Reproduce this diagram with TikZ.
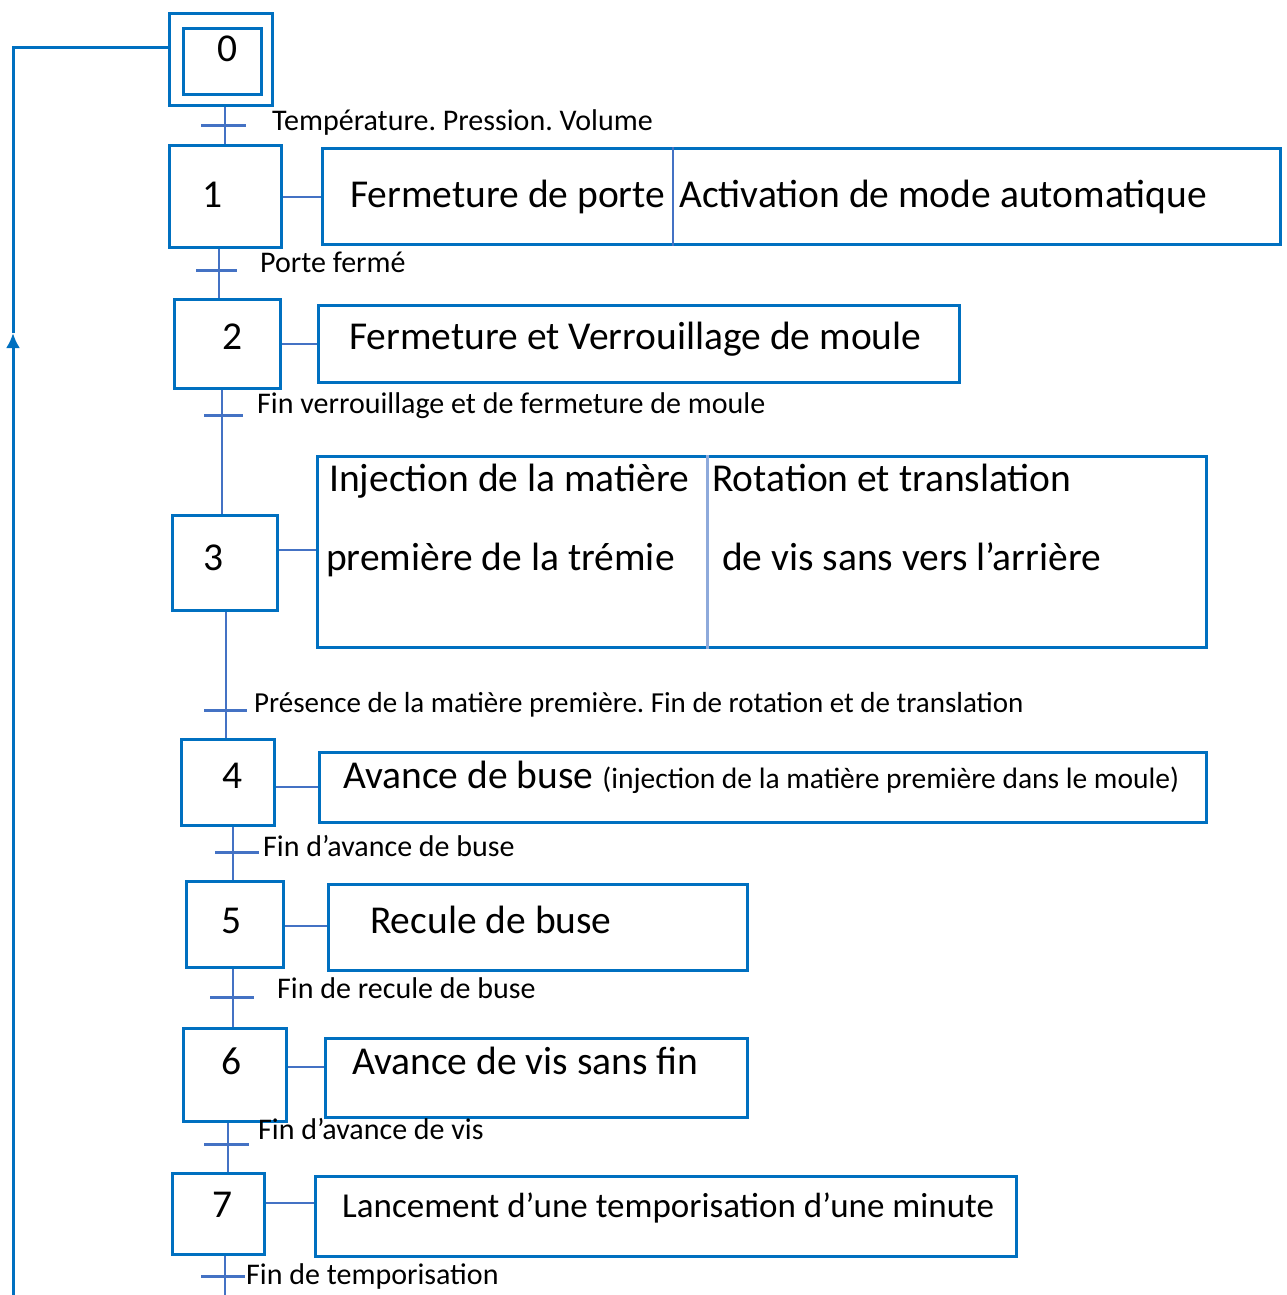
\documentclass[tikz,border=0pt]{standalone}
\usepackage{fontspec}
\setmainfont{Carlito}
\usetikzlibrary{arrows.meta}
\definecolor{boxblue}{HTML}{0070C0}
\definecolor{linkblue}{HTML}{4472C4}
\definecolor{divblue}{HTML}{8EAADB}
\frenchspacing
\begin{document}
\begin{tikzpicture}[x=1pt,y=-1pt,
  stepbox/.style={draw=boxblue,line width=3.2pt,anchor=north west,inner sep=0pt},
  link/.style={draw=linkblue,line width=2.5pt},
  bar/.style={draw=linkblue,line width=3pt},
  ret/.style={draw=boxblue,line width=3pt},
  big/.style={font=\fontsize{39.5}{47}\selectfont,anchor=base west,inner sep=0pt},
  mid/.style={font=\fontsize{35}{42}\selectfont,anchor=base west,inner sep=0pt},
  lbl/.style={font=\fontsize{30}{36}\selectfont,anchor=base west,inner sep=0pt},
  num/.style={font=\fontsize{39.5}{47}\selectfont,anchor=base,inner sep=0pt}]
\useasboundingbox (0,0) rectangle (1286,1295);

% ---------- step boxes ----------
\node[stepbox,minimum width=103pt,minimum height=92pt] (s0) at (168,12) {};
\node[stepbox,minimum width=78pt,minimum height=66pt] (s0i) at (182,27) {};
\node[stepbox,minimum width=112pt,minimum height=102pt] (s1) at (168,144) {};
\node[stepbox,minimum width=106pt,minimum height=89pt] (s2) at (173,298) {};
\node[stepbox,minimum width=105pt,minimum height=95pt] (s3) at (171,514) {};
\node[stepbox,minimum width=93pt,minimum height=86pt] (s4) at (180,738) {};
\node[stepbox,minimum width=97pt,minimum height=86pt] (s5) at (185,880) {};
\node[stepbox,minimum width=103pt,minimum height=93pt] (s6) at (182,1027) {};
\node[stepbox,minimum width=92pt,minimum height=81pt] (s7) at (171,1172) {};

% ---------- numbers ----------
\node[num] (n0) at (228,62) {0};
\node[num] (n1) at (213,207) {1};
\node[num] (n2) at (233,349) {2};
\node[num] (n3) at (214,570) {3};
\node[num] (n4) at (233,788) {4};
\node[num] (n5) at (232,933) {5};
\node[num] (n6) at (232,1074) {6};
\node[num] (n7) at (223,1217) {7};

% ---------- action boxes ----------
\node[stepbox,minimum width=958pt,minimum height=96pt] (a1) at (321,147) {};
\node[stepbox,minimum width=641pt,minimum height=77pt] (a2) at (317,304) {};
\node[stepbox,minimum width=889pt,minimum height=191pt] (a3) at (316,455) {};
\node[stepbox,minimum width=887pt,minimum height=70pt] (a4) at (318,751) {};
\node[stepbox,minimum width=419pt,minimum height=86pt] (a5) at (327,883) {};
\node[stepbox,minimum width=422pt,minimum height=79pt] (a6) at (324,1037) {};
\node[stepbox,minimum width=701pt,minimum height=80pt] (a7) at (314,1175) {};

% dividers
\coordinate (d1) at (673,0);
\coordinate (d3) at (707,0);
\draw[draw=linkblue,line width=2.5pt] (a1.north -| d1) -- (a1.south -| d1);
\draw[draw=divblue,line width=3pt] (a3.north -| d3) -- (a3.south -| d3);

% ---------- action texts ----------
\node[big] (t1a) at (350,207) {Fermeture de porte};
\node[big] (t1b) at (679,207) {Activation de mode automatique};
\node[big] (t2) at (349,349) {Fermeture et Verrouillage de moule};
\node[big] (t3a) at (329,491) {Injection de la matière};
\node[big] (t3b) at (326,570) {première de la trémie};
\node[big] (t3c) at (712,491) {Rotation et translation};
\node[big] (t3d) at (722,570) {de vis sans vers l’arrière};
\node[big] (t4) at (343,788) {Avance de buse {\fontsize{29.5}{35}\selectfont (injection de la matière première dans le moule)}};
\node[big] (t5) at (370,933) {Recule de buse};
\node[big] (t6) at (352,1074) {Avance de vis sans fin};
\node[mid] (t7) at (342,1217) {Lancement d’une temporisation d’une minute};

% ---------- action links ----------
\coordinate (y1) at (0,197);
\coordinate (y2) at (0,344);
\coordinate (y3) at (0,550);
\coordinate (y4) at (0,787);
\coordinate (y5) at (0,926);
\coordinate (y6) at (0,1067);
\coordinate (y7) at (0,1203);
\draw[link] (s1.east |- y1) -- (a1.west |- y1);
\draw[link] (s2.east |- y2) -- (a2.west |- y2);
\draw[link] (s3.east |- y3) -- (a3.west |- y3);
\draw[link] (s4.east |- y4) -- (a4.west |- y4);
\draw[link] (s5.east |- y5) -- (a5.west |- y5);
\draw[link] (s6.east |- y6) -- (a6.west |- y6);
\draw[link] (s7.east |- y7) -- (a7.west |- y7);

% ---------- transitions ----------
\coordinate (c0) at (225,126);
\coordinate (c1) at (219,270);
\coordinate (c2) at (222,415);
\coordinate (c3) at (226,710);
\coordinate (c4) at (233,852);
\coordinate (c5) at (233,997);
\coordinate (c6) at (228,1144);
\coordinate (c7) at (225,1276);
\coordinate (cend) at (225,1295);

\draw[link] (s0.south -| c0) -- (s1.north -| c0);
\draw[link] (s1.south -| c1) -- (s2.north -| c1);
\draw[link] (s2.south -| c2) -- (s3.north -| c2);
\draw[link] (s3.south -| c3) -- (s4.north -| c3);
\draw[link] (s4.south -| c4) -- (s5.north -| c4);
\draw[link] (s5.south -| c5) -- (s6.north -| c5);
\draw[link] (s6.south -| c6) -- (s7.north -| c6);
\draw[link] (s7.south -| c7) -- (cend);

\draw[bar] ([xshift=-24pt]c0) -- ([xshift=21pt]c0);
\draw[bar] ([xshift=-23pt]c1) -- ([xshift=18pt]c1);
\draw[bar] ([xshift=-18pt]c2) -- ([xshift=21pt]c2);
\draw[bar] ([xshift=-22pt]c3) -- ([xshift=21pt]c3);
\draw[bar] ([xshift=-18pt]c4) -- ([xshift=26pt]c4);
\draw[bar] ([xshift=-23pt]c5) -- ([xshift=21pt]c5);
\draw[bar] ([xshift=-24pt]c6) -- ([xshift=21pt]c6);
\draw[bar] ([xshift=-24pt]c7) -- ([xshift=20pt]c7);

% ---------- transition labels ----------
\node[lbl] (l0) at (272,131) {Température. Pression. Volume};
\node[lbl] (l1) at (260,272) {Porte fermé};
\node[lbl] (l2) at (257,413) {Fin verrouillage et de fermeture de moule};
\node[lbl,font=\fontsize{29}{35}\selectfont] (l3) at (254,712) {Présence de la matière première. Fin de rotation et de translation};
\node[lbl] (l4) at (263,856) {Fin d’avance de buse};
\node[lbl] (l5) at (277,998) {Fin de recule de buse};
\node[lbl] (l6) at (258,1139) {Fin d’avance de vis};
\node[lbl] (l7) at (246,1284) {Fin de temporisation};

% ---------- return loop ----------
\coordinate (r0) at (13,1295);
\coordinate (ra) at (13,333);
\coordinate (r1) at (13,48);
\draw[ret,-{Latex[length=15pt,width=14pt]}] (r0) -- (ra);
\draw[ret] (ra) -- (r1) -- (s0.west |- r1);
\end{tikzpicture}
\end{document}
